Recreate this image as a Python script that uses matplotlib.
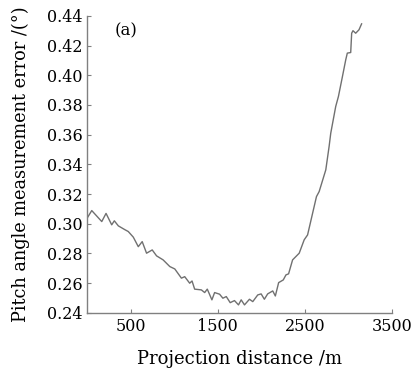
import matplotlib
matplotlib.use("Agg")
import matplotlib.pyplot as plt

# projection distance (m) and pitch angle error (deg)
distance = [0, 53, 168, 217, 282, 312, 358, 434, 472, 530, 587, 632, 682, 747,
            797, 872, 949, 1006, 1082, 1120, 1177, 1204, 1234, 1311, 1349, 1379,
            1432, 1463, 1520, 1558, 1597, 1642, 1691, 1737, 1768, 1806, 1863,
            1901, 1958, 1997, 2034, 2072, 2130, 2160, 2198, 2251, 2282, 2312,
            2358, 2434, 2491, 2530, 2579, 2632, 2663, 2739, 2777, 2796, 2853,
            2884, 2930, 2968, 2986, 3025, 3036, 3051, 3082, 3120, 3150]
error = [0.3038, 0.3089, 0.3015, 0.3070, 0.2993, 0.3020, 0.2986, 0.2960, 0.2948,
         0.2910, 0.2846, 0.2880, 0.2802, 0.2824, 0.2784, 0.2757, 0.2712, 0.2696,
         0.2634, 0.2644, 0.2600, 0.2615, 0.2560, 0.2555, 0.2537, 0.2560, 0.2488,
         0.2537, 0.2526, 0.2499, 0.2510, 0.2469, 0.2483, 0.2454, 0.2488, 0.2454,
         0.2492, 0.2476, 0.2521, 0.2528, 0.2492, 0.2528, 0.2548, 0.2514, 0.2604,
         0.2622, 0.2656, 0.2663, 0.2757, 0.2802, 0.2892, 0.2925, 0.3049, 0.3183,
         0.3217, 0.3363, 0.3520, 0.3610, 0.3790, 0.3857, 0.3991, 0.4104, 0.4149,
         0.4153, 0.4283, 0.4300, 0.4283, 0.4306, 0.4346]

x_ticks = [500, 1500, 2500, 3500]
y_ticks = [0.24, 0.26, 0.28, 0.30, 0.32, 0.34, 0.36, 0.38, 0.40, 0.42, 0.44]

plt.rcParams['font.family'] = ['DejaVu Serif']

fig = plt.figure(figsize=(4.11, 3.77), dpi=100)
ax = fig.add_axes([0.212, 0.170, 0.742, 0.788])

ax.plot(distance, error, color='#707070', linewidth=1.0)

ax.set_xlim(0, 3500)
ax.set_ylim(0.24, 0.44)
ax.set_xticks(x_ticks)
ax.set_yticks(y_ticks)
ax.set_yticklabels(["%.2f" % v for v in y_ticks])

for s in ['top', 'right']:
    ax.spines[s].set_visible(False)
for s in ['left', 'bottom']:
    ax.spines[s].set_color('#808080')
    ax.spines[s].set_linewidth(1.0)
ax.tick_params(direction='in', length=3, color='#808080', labelsize=11.5)

ax.set_xlabel("Projection distance /m", fontsize=13, labelpad=11)
ax.set_ylabel("Pitch angle measurement error /(°)", fontsize=12.8, labelpad=12)
ax.text(0.09, 0.935, "(a)", transform=ax.transAxes, fontsize=12)

fig.savefig("out.png", dpi=100)
